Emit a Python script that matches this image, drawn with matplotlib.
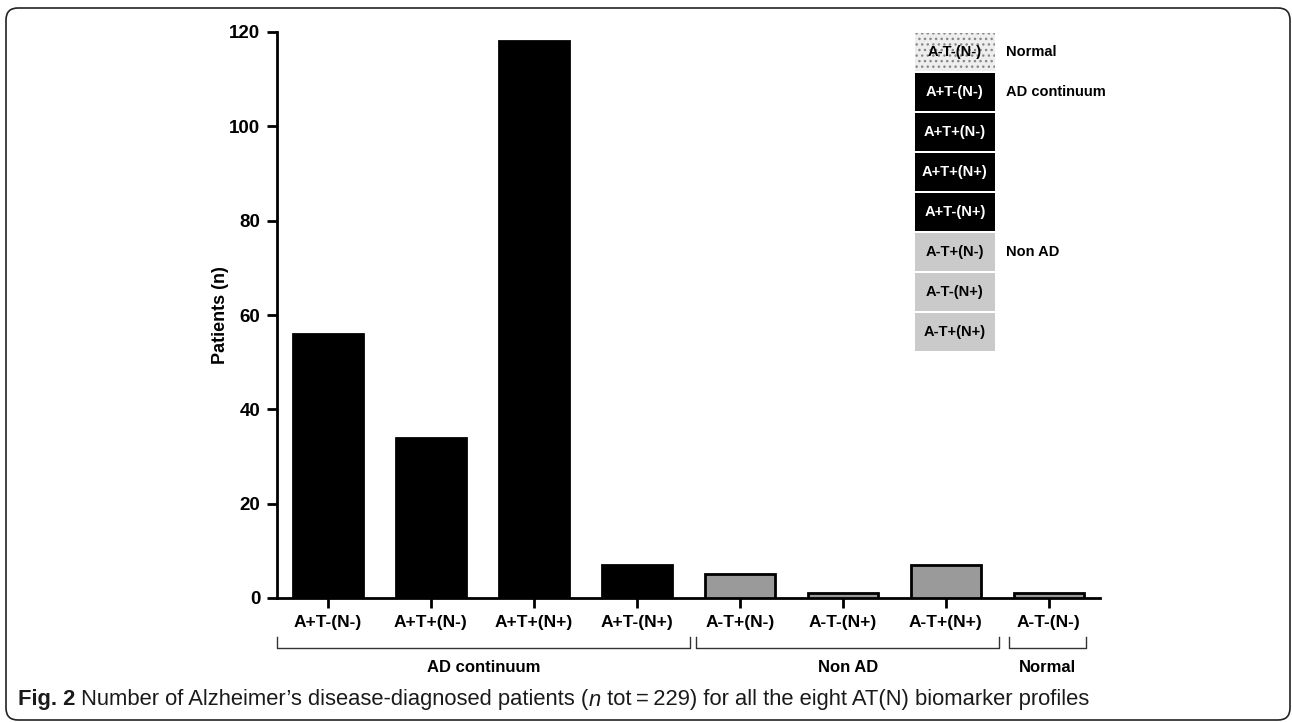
import matplotlib.pyplot as plt
import matplotlib.transforms as mtransforms
from matplotlib.patches import Rectangle, FancyBboxPatch

plt.rcParams['font.family'] = ['Liberation Sans', 'DejaVu Sans']

# data
profiles = ['A+T-(N-)', 'A+T+(N-)', 'A+T+(N+)', 'A+T-(N+)',
            'A-T+(N-)', 'A-T-(N+)', 'A-T+(N+)', 'A-T-(N-)']
patients = [56, 34, 118, 7, 5, 1, 7, 1]
groups = ['AD continuum'] * 4 + ['Non AD'] * 3 + ['Normal']
group_names = ['AD continuum', 'Non AD', 'Normal']
legend_order = ['A-T-(N-)', 'A+T-(N-)', 'A+T+(N-)', 'A+T+(N+)', 'A+T-(N+)',
                'A-T+(N-)', 'A-T-(N+)', 'A-T+(N+)']
legend_groups = ['Normal'] + ['AD continuum'] * 4 + ['Non AD'] * 3

bar_colors = {'AD continuum': 'black', 'Non AD': '#9a9a9a', 'Normal': '#9a9a9a'}
legend_colors = {'AD continuum': 'black', 'Non AD': '#cacaca', 'Normal': '#eeeeee'}

W, H = 1292, 722
fig = plt.figure(figsize=(W / 100, H / 100), dpi=100)


def fx(px):
    return px / W


def fy(py):
    return 1 - py / H


ax = fig.add_axes([fx(277), fy(598), 823 / W, 566 / H])

x = list(range(len(profiles)))
ax.bar(x, patients, width=0.68, color=[bar_colors[g] for g in groups],
       edgecolor='black', linewidth=2, zorder=3)
ax.set_xlim(-0.495, 7.5)
ax.set_ylim(0, 120)
ax.set_yticks(range(0, 121, 20))
ax.set_xticks(x)
ax.set_xticklabels(profiles, fontsize=12.5, fontweight='bold')
for lab in ax.get_yticklabels():
    lab.set_fontsize(13.5)
    lab.set_fontweight('bold')
ax.spines['top'].set_visible(False)
ax.spines['right'].set_visible(False)
ax.spines['left'].set_linewidth(2)
ax.spines['bottom'].set_linewidth(2)
ax.tick_params(axis='both', length=7, width=2, direction='out')
ax.tick_params(axis='y', pad=5)
ax.tick_params(axis='x', pad=5)
ax.set_ylabel('Patients (n)', fontsize=13, fontweight='bold', labelpad=0)

# group brackets under the axis
trans = mtransforms.blended_transform_factory(ax.transData, ax.transAxes)
bracket_span = {'AD continuum': (-0.495, 3.52), 'Non AD': (3.58, 6.52), 'Normal': (6.62, 7.36)}
y_line = -0.0883
y_tip = -0.069
for g in group_names:
    x0, x1 = bracket_span[g]
    ax.plot([x0, x0, x1, x1], [y_tip, y_line, y_line, y_tip], color='#333333',
            lw=1, transform=trans, clip_on=False)
    ax.text((x0 + x1) / 2, -0.122, g, transform=trans, ha='center', va='center',
            fontsize=12, fontweight='bold')

# legend built from boxes
box_top = 33
for i, (name, g) in enumerate(zip(legend_order, legend_groups)):
    top = box_top + 40 * i
    rect = Rectangle((fx(915), fy(top + 38)), 80 / W, 38 / H, transform=fig.transFigure,
                     facecolor=legend_colors[g], edgecolor='#888888' if g == 'Normal' else 'none',
                     linewidth=0, hatch='...' if g == 'Normal' else None)
    fig.patches.append(rect)
    fig.text(fx(955), fy(top + 19), name, ha='center', va='center', fontsize=10.5,
             fontweight='bold', color='white' if g == 'AD continuum' else 'black')
    if i == 0 or legend_groups[i - 1] != g:
        fig.text(fx(1006), fy(top + 19), g, ha='left', va='center', fontsize=10.5,
                 fontweight='bold')

# rounded frame
frame = FancyBboxPatch((6, 2), 1284, 712, boxstyle='round,pad=0,rounding_size=12',
                       transform=mtransforms.IdentityTransform(), fill=False,
                       edgecolor='#222222', linewidth=1.2)
fig.patches.append(frame)

# caption
renderer = fig.canvas.get_renderer()
pieces = [('Fig. 2', 'bold', 'normal'),
          (' Number of Alzheimer\u2019s disease-diagnosed patients (', 'normal', 'normal'),
          ('n', 'normal', 'italic'),
          (' tot\u2009=\u2009229) for all the eight AT(N) biomarker profiles', 'normal', 'normal')]
xpos = 18
for txt, weight, style in pieces:
    t = fig.text(fx(xpos), fy(700), txt, ha='left', va='center', fontsize=15.8,
                 fontweight=weight, fontstyle=style, color='#1a1a1a')
    bb = t.get_window_extent(renderer)
    xpos += bb.width

fig.savefig('out.png', dpi=100)
